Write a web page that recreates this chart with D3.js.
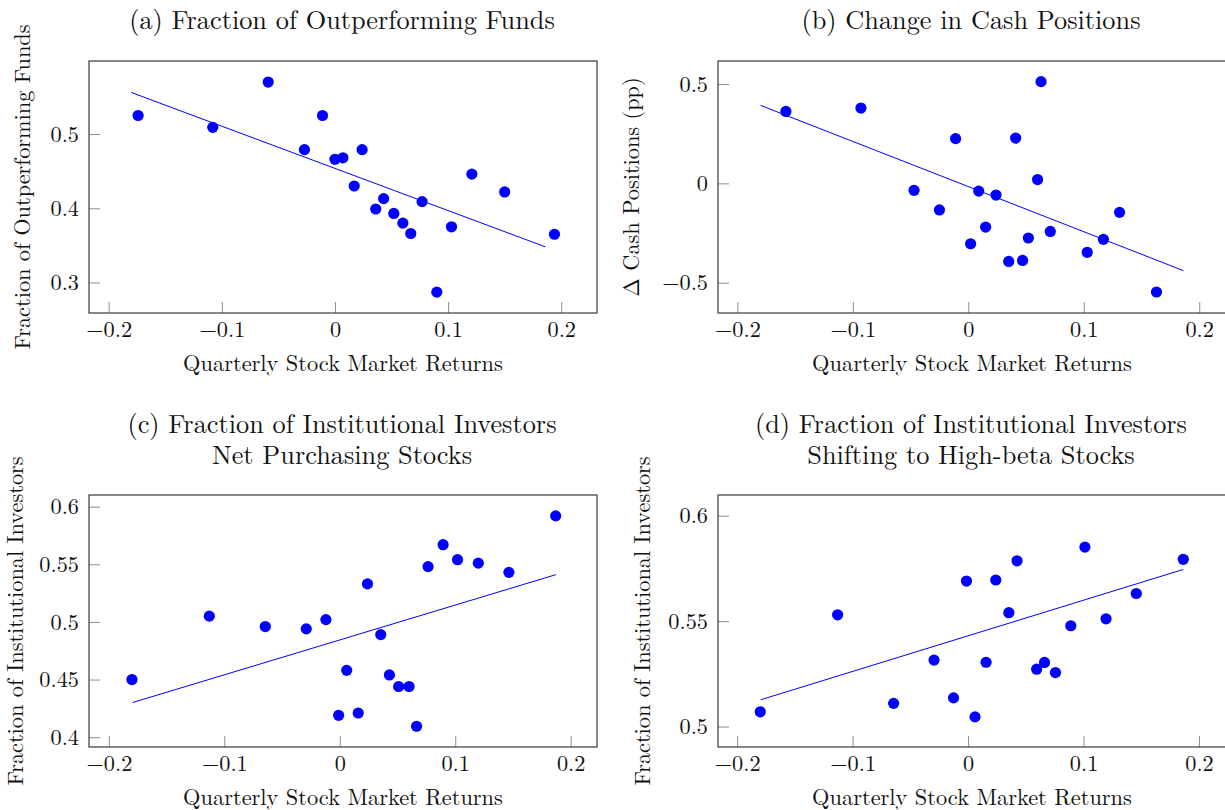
<!DOCTYPE html>
<html>
<head>
<meta charset="utf-8">
<script src="https://cdn.jsdelivr.net/npm/d3@7"></script>
<style>
  html, body { margin: 0; padding: 0; background: #fff; }
  svg { display: block; }
  text { font-family: "Latin Modern Roman", "Latin Modern Math", "Liberation Serif", serif; fill: #111; }
</style>
</head>
<body>
<svg id="chart" width="1225" height="810"></svg>
<script>
// ---------------- data ----------------
const xTickValues = [-0.2, -0.1, 0, 0.1, 0.2];
const xLabel = "Quarterly Stock Market Returns";

// (a) Fraction of Outperforming Funds
const aTitle = ["(a) Fraction of Outperforming Funds"];
const aYLabel = "Fraction of Outperforming Funds";
const aX = [-0.174, -0.108, -0.059, -0.027, -0.011, 0.000, 0.007, 0.024, 0.017, 0.043, 0.036, 0.052, 0.060, 0.067, 0.077, 0.090, 0.103, 0.121, 0.150, 0.194];
const aY = [0.525, 0.509, 0.570, 0.479, 0.525, 0.466, 0.468, 0.479, 0.430, 0.413, 0.399, 0.393, 0.380, 0.366, 0.409, 0.287, 0.375, 0.446, 0.422, 0.365];
const aFitX = [-0.180, 0.186];
const aFitY = [0.556, 0.348];
const aYTicks = [0.3, 0.4, 0.5];
const aXDomain = [-0.2174, 0.2316];
const aYDomain = [0.2589, 0.5984];

// (b) Change in Cash Positions
const bTitle = ["(b) Change in Cash Positions"];
const bYLabel = "\u0394 Cash Positions (pp)";
const bX = [-0.158, -0.093, -0.011, 0.041, 0.063, 0.060, -0.047, 0.009, 0.024, -0.025, 0.015, 0.002, 0.052, 0.071, 0.035, 0.047, 0.103, 0.117, 0.131, 0.163];
const bY = [0.362, 0.379, 0.225, 0.228, 0.512, 0.019, -0.035, -0.039, -0.059, -0.134, -0.220, -0.304, -0.275, -0.242, -0.393, -0.388, -0.347, -0.282, -0.146, -0.547];
const bFitX = [-0.180, 0.1864];
const bFitY = [0.3926, -0.4396];
const bYTicks = [-0.5, 0, 0.5];
const bXDomain = [-0.2168, 0.2232];
const bYDomain = [-0.6527, 0.616];

// (c) Fraction of Institutional Investors Net Purchasing Stocks
const cTitle = ["(c) Fraction of Institutional Investors", "Net Purchasing Stocks"];
const cYLabel = "Fraction of Institutional Investors";
const cX = [-0.180, -0.113, -0.0645, -0.029, -0.012, -0.001, 0.006, 0.016, 0.024, 0.0355, 0.043, 0.051, 0.060, 0.0665, 0.0765, 0.0895, 0.102, 0.120, 0.1465, 0.187];
const cY = [0.450, 0.505, 0.496, 0.494, 0.502, 0.419, 0.458, 0.421, 0.533, 0.489, 0.454, 0.444, 0.444, 0.4095, 0.548, 0.567, 0.554, 0.551, 0.543, 0.592];
const cFitX = [-0.1794, 0.1872];
const cFitY = [0.4301, 0.541];
const cYTicks = [0.4, 0.45, 0.5, 0.55, 0.6];
const cXDomain = [-0.2172, 0.2228];
const cYDomain = [0.3915, 0.6101];

// (d) Fraction of Institutional Investors Shifting to High-beta Stocks
const dTitle = ["(d) Fraction of Institutional Investors", "Shifting to High-beta Stocks"];
const dYLabel = "Fraction of Institutional Investors";
const dX = [-0.180, -0.113, -0.0645, -0.0295, -0.0126, -0.0014, 0.006, 0.0156, 0.024, 0.0353, 0.0424, 0.0594, 0.0662, 0.0757, 0.089, 0.1012, 0.1195, 0.1457, 0.1864];
const dY = [0.507, 0.553, 0.511, 0.5315, 0.5136, 0.569, 0.5046, 0.5305, 0.5695, 0.554, 0.5786, 0.5272, 0.5304, 0.5256, 0.5478, 0.5851, 0.5511, 0.5631, 0.5793];
const dFitX = [-0.1796, 0.1864];
const dFitY = [0.5127, 0.5745];
const dYTicks = [0.5, 0.55, 0.6];
const dXDomain = [-0.2166, 0.2234];
const dYDomain = [0.4903, 0.6098];

// ---------------- layout ----------------
const W = 508, H = 252;
const panels = [
  {left: 89,  top: 61,  title: aTitle, titleY: [29],       yLabel: aYLabel, yLabelX: 29.5, x: aX, y: aY, fx: aFitX, fy: aFitY, yt: aYTicks, xd: aXDomain, yd: aYDomain},
  {left: 718, top: 61,  title: bTitle, titleY: [29],       yLabel: bYLabel, yLabelX: 638.5, x: bX, y: bY, fx: bFitX, fy: bFitY, yt: bYTicks, xd: bXDomain, yd: bYDomain},
  {left: 89,  top: 495, title: cTitle, titleY: [433, 464], yLabel: cYLabel, yLabelX: 22.5, x: cX, y: cY, fx: cFitX, fy: cFitY, yt: cYTicks, xd: cXDomain, yd: cYDomain},
  {left: 718, top: 495, title: dTitle, titleY: [433, 464], yLabel: dYLabel, yLabelX: 650,  x: dX, y: dY, fx: dFitX, fy: dFitY, yt: dYTicks, xd: dXDomain, yd: dYDomain}
];

const FONT = '"Latin Modern Roman", "Latin Modern Math", "Liberation Serif", serif';
const svg = d3.select("#chart");
const fmt = v => {
  if (v === 0) return "0";
  const s = d3.format("")(Math.abs(v));
  return (v < 0 ? "\u2212" : "") + s;
};

panels.forEach(p => {
  const x = d3.scaleLinear().domain(p.xd).range([p.left, p.left + W]);
  const y = d3.scaleLinear().domain(p.yd).range([p.top + H, p.top]);
  const g = svg.append("g");

  // ticks (inward)
  const gx = g.append("g").attr("transform", `translate(0,${p.top + H})`)
    .call(d3.axisBottom(x).tickValues(xTickValues).tickSize(-11).tickFormat(fmt));
  const gy = g.append("g").attr("transform", `translate(${p.left},0)`)
    .call(d3.axisLeft(y).tickValues(p.yt).tickSize(-11).tickFormat(fmt));
  [gx, gy].forEach(a => {
    a.attr("font-family", null).attr("font-size", null);
    a.select(".domain").remove();
    a.selectAll(".tick line").attr("stroke", "#8f8f8f").attr("stroke-width", 1);
    a.selectAll(".tick text").attr("fill", "#111")
      .style("font-family", FONT).style("font-size", "22.3px");
  });
  gx.selectAll(".tick text").attr("y", 8.5).attr("dy", "0.71em");
  gy.selectAll(".tick text").attr("x", -10).attr("dy", "0.32em");

  // frame
  g.append("rect").attr("x", p.left).attr("y", p.top).attr("width", W).attr("height", H)
    .attr("fill", "none").attr("stroke", "#3a3a3a").attr("stroke-width", 1.2);

  // fit line
  const fit = p.fx.map((v, i) => [v, p.fy[i]]);
  g.append("path").datum(fit)
    .attr("d", d3.line().x(d => x(d[0])).y(d => y(d[1])))
    .attr("fill", "none").attr("stroke", "#0000ff").attr("stroke-width", 1);

  // points
  g.selectAll("circle.pt").data(p.x.map((v, i) => [v, p.y[i]])).join("circle")
    .attr("class", "pt")
    .attr("cx", d => x(d[0])).attr("cy", d => y(d[1])).attr("r", 5.6)
    .attr("fill", "#0000ff");

  // titles
  p.title.forEach((t, i) => {
    g.append("text").attr("x", p.left + W / 2 - 1).attr("y", p.titleY[i])
      .attr("text-anchor", "middle").style("font-family", FONT).style("font-size", "26.3px")
      .text(t);
  });

  // x label
  g.append("text").attr("x", p.left + W / 2).attr("y", p.top + H + 58)
    .attr("text-anchor", "middle").style("font-family", FONT).style("font-size", "22.4px")
    .text(xLabel);

  // y label
  g.append("text")
    .attr("transform", `translate(${p.yLabelX},${p.top + H / 2}) rotate(-90)`)
    .attr("text-anchor", "middle").style("font-family", FONT).style("font-size", "22.3px")
    .text(p.yLabel);
});
</script>
</body>
</html>
